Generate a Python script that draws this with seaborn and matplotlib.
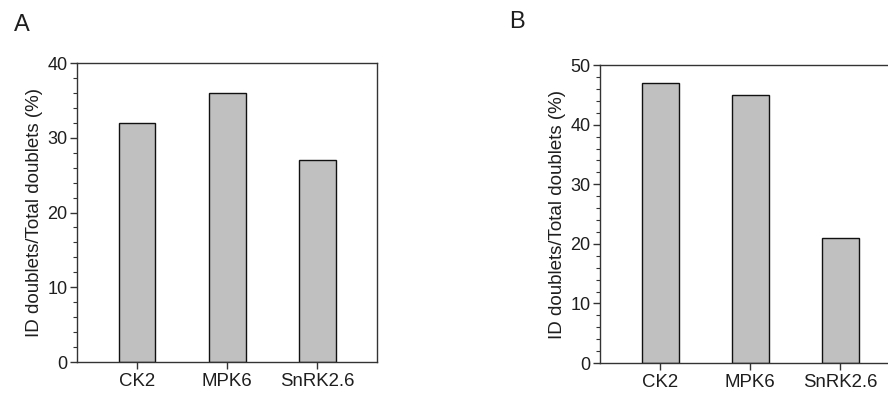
import pandas as pd
import numpy as np
import matplotlib.pyplot as plt
import seaborn as sns
from matplotlib.ticker import MultipleLocator

# Values
kinases = ['CK2', 'MPK6', 'SnRK2.6']
ratio_a = [32, 36, 27]
ratio_b = [47, 45, 21]

sns.set_style('ticks')
plt.rcParams['font.family'] = ['Liberation Sans', 'DejaVu Sans']
text_color = '#1e1e1e'
spine_color = '#333333'

fig = plt.figure(figsize=(8.88, 3.95), dpi=100)
ax_a = fig.add_axes([0.0867, 0.0835, 0.338, 0.757])
ax_b = fig.add_axes([0.6757, 0.081, 0.338, 0.754])


def draw_panel(ax, values, ymax):
    df = pd.DataFrame({'Kinase': kinases, 'Ratio': values})
    sns.barplot(x='Kinase', y='Ratio', data=df, ax=ax, color='#c0c0c0',
                saturation=1, width=0.41, edgecolor='#111111', linewidth=1.0)
    ax.set_xlim(-0.667, 2.667)
    ax.set_ylim(0, ymax)
    ax.yaxis.set_major_locator(MultipleLocator(10))
    ax.yaxis.set_minor_locator(MultipleLocator(2))
    ax.set_xlabel('')
    ax.set_ylabel('ID doublets/Total doublets (%)', fontsize=13.5, color=text_color, labelpad=3)
    ax.tick_params(axis='y', which='major', labelsize=13, length=5, width=1,
                   colors=spine_color, labelcolor=text_color, pad=2)
    ax.tick_params(axis='y', which='minor', length=3, width=0.8, colors=spine_color)
    ax.tick_params(axis='x', labelsize=13.4, length=5, width=1,
                   colors=spine_color, labelcolor=text_color, pad=3)
    for s in ax.spines.values():
        s.set_visible(True)
        s.set_color(spine_color)
        s.set_linewidth(1.0)


draw_panel(ax_a, ratio_a, 40)
draw_panel(ax_b, ratio_b, 50)

fig.text(0.016, 0.922, 'A', fontsize=17, color=text_color)
fig.text(0.573, 0.930, 'B', fontsize=17, color=text_color)

fig.savefig('out.png', dpi=100)
